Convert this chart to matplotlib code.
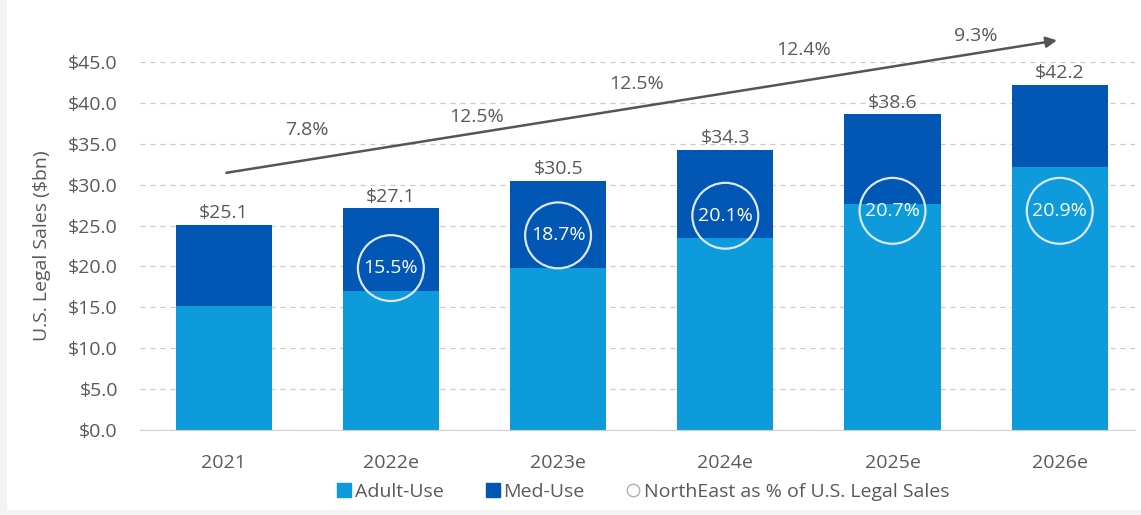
import matplotlib
matplotlib.use("Agg")
from matplotlib import pyplot as plt
from matplotlib.patches import Rectangle
from matplotlib.lines import Line2D

years = ["2021", "2022e", "2023e", "2024e", "2025e", "2026e"]
totals = [25.1, 27.1, 30.5, 34.3, 38.6, 42.2]
adult_use = [15.2, 17.0, 19.8, 23.5, 27.6, 32.2]
med_use = [t - a for t, a in zip(totals, adult_use)]
northeast_share = [None, 15.5, 18.7, 20.1, 20.7, 20.9]
circle_y = [None, 19.8, 23.8, 26.2, 26.8, 26.8]
growth = ["7.8%", "12.5%", "12.5%", "12.4%", "9.3%"]
growth_pos = [(0.5, 36.7), (1.51, 38.3), (2.47, 42.3), (3.47, 46.5), (4.5, 48.2)]

ADULT = "#0d9bdc"
MED = "#0256b4"
GREY = "#595959"
FS = 14

plt.rcParams["font.family"] = ["Open Sans", "DejaVu Sans"]

fig = plt.figure(figsize=(11.41, 5.15), dpi=100, facecolor="#f3f3f3")
fig.patches.append(Rectangle((7 / 1141, 5 / 515), 1, 1, transform=fig.transFigure,
                             facecolor="white", edgecolor="none", zorder=-10))
ax = fig.add_axes([140 / 1141, 85 / 515, 995 / 1141, 368 / 515])
ax.set_facecolor("none")

x = list(range(len(years)))
ax.bar(x, adult_use, width=0.575, color=ADULT, zorder=2)
ax.bar(x, med_use, width=0.575, bottom=adult_use, color=MED, zorder=2)

for i, t in enumerate(totals):
    ax.text(i, t + 0.3, f"${t:.1f}", ha="center", va="bottom", fontsize=FS, color=GREY)

for i, (s, cy) in enumerate(zip(northeast_share, circle_y)):
    if s is None:
        continue
    ax.scatter([i], [cy], s=2250, facecolor="none", edgecolor="#dce8f5", linewidth=1.6, zorder=3)
    ax.text(i, cy, f"{s}%", ha="center", va="center", fontsize=FS, color="white", zorder=4)

ax.annotate("", xy=(5.0, 47.7), xytext=(0.0, 31.4),
            arrowprops=dict(arrowstyle="-|>", color="#555555", lw=1.8, mutation_scale=16),
            annotation_clip=False, zorder=5)
for g, (gx, gy) in zip(growth, growth_pos):
    ax.text(gx, gy, g, ha="center", va="center", fontsize=FS, color=GREY, clip_on=False)

ax.set_xlim(-0.5, 5.45)
ax.set_ylim(0, 45)
ax.set_yticks([i * 5 for i in range(10)])
ax.set_yticklabels([f"${i * 5:.1f}" for i in range(10)])
ax.set_xticks(x)
ax.set_xticklabels(years)
ax.tick_params(axis="both", length=0, labelsize=FS, labelcolor=GREY)
ax.tick_params(axis="x", pad=17)
ax.tick_params(axis="y", pad=16)
ax.yaxis.grid(True, linestyle=(0, (4, 4)), color="#c8c8c8", linewidth=0.9, zorder=0)
ax.set_axisbelow(True)
for side in ["top", "right", "left"]:
    ax.spines[side].set_visible(False)
ax.spines["bottom"].set_color("#d0d0d0")
ax.set_ylabel("U.S. Legal Sales ($bn)", fontsize=FS, color=GREY, labelpad=12)

handles = [
    Line2D([], [], marker="s", linestyle="none", markersize=10, color=ADULT),
    Line2D([], [], marker="s", linestyle="none", markersize=10, color=MED),
    Line2D([], [], marker="o", linestyle="none", markersize=9, markerfacecolor="none",
           markeredgecolor="#b0b0b0"),
]
fig.legend(handles, ["Adult-Use", "Med-Use", "NorthEast as % of U.S. Legal Sales"],
           loc="center", bbox_to_anchor=(642 / 1141, 1 - 492 / 515), ncol=3, frameon=False,
           fontsize=FS, labelcolor=GREY, handletextpad=0.05, columnspacing=2.0,
           handlelength=1.0)

fig.savefig("out.png", dpi=100, facecolor=fig.get_facecolor())
